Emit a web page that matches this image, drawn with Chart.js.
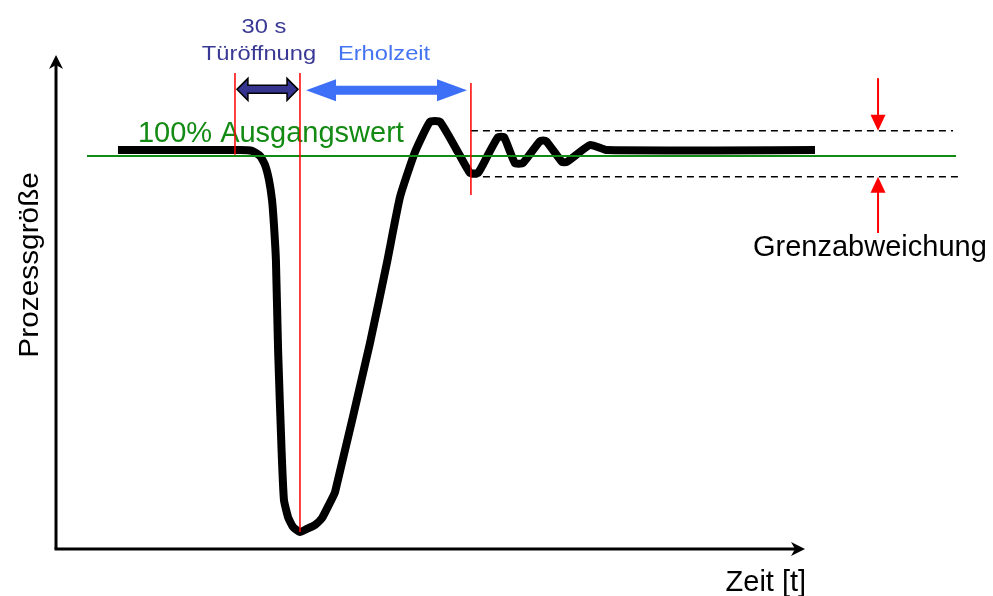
<!DOCTYPE html>
<html><head><meta charset="utf-8">
<script src="https://cdn.jsdelivr.net/npm/chart.js@4/dist/chart.umd.min.js"></script>
<style>html,body{margin:0;padding:0;background:#fff}#wrap{width:993px;height:596px;position:relative}</style>
</head><body><div id="wrap"><canvas id="c"></canvas></div>
<script>
// time axis in seconds, process value in % of the initial value
const curveTime  = [28.6, 84.9, 90.5, 94.2, 96.5, 98.3, 99.7, 100.6, 101.5, 102.5, 104.1, 105.2, 107.1, 109.4, 112.6, 115.8, 119.5, 122.8, 125.9, 128.8, 144.9, 152.8, 158.8, 165.7, 172.6, 177.2, 185.5, 191.1, 194.8, 199.4, 204.0, 206.8, 211.8, 215.5, 223.4, 226.2, 233.5, 235.8, 246.5, 254.3, 350.3];
const curveValue = [101.5, 101.5, 101.3, 100.0, 97.7, 93.9, 88.8, 82.4, 73.5, 50.6, 25.2, 12.5, 8.1, 5.6, 4.3, 5.1, 6.1, 7.9, 11.2, 14.5, 52.4, 73.0, 89.6, 101.0, 108.7, 108.7, 101.0, 95.7, 95.7, 100.3, 104.8, 104.8, 98.2, 98.2, 103.8, 103.8, 98.5, 98.5, 102.8, 101.5, 101.5];
const baselineTime = [14.3, 415.4];
const baselineValue = [100, 100];
const upperLimitTime = [191.5, 414.0];
const upperLimitValue = [106.4, 106.4];
const lowerLimitTime = [191.5, 416.3];
const lowerLimitValue = [94.7, 94.7];
const markerTimes = [82.6, 112.6, 191.5];
const markerTop = [121.1, 121.1, 118.6];
const markerBottom = [100.3, 4.3, 90.1];
const doorOpenSpan = [83.5, 111.7];   // 30 s
const recoverySpan = [115.4, 189.7];
const spanLevel = 116.7;
const limitArrowTime = 379.4;
const upperArrowFrom = 119.8, lowerArrowFrom = 80.4;
const axisTimeEnd = 345.7, axisValueEnd = 125.7;

const pts = (xs, ys) => xs.map((x, i) => ({x, y: ys[i]}));

const datasets = [
  {data: pts(curveTime, curveValue), borderColor:'#000', borderWidth:8, tension:0.15, borderCapStyle:'butt', borderJoinStyle:'round', order:5},
  {data: pts(baselineTime, baselineValue), borderColor:'#138a13', borderWidth:2, order:2},
  {data: pts(upperLimitTime, upperLimitValue), borderColor:'#000', borderWidth:1.5, borderDash:[7,5], order:3},
  {data: pts(lowerLimitTime, lowerLimitValue), borderColor:'#000', borderWidth:1.5, borderDash:[7,5], order:3},
];
markerTimes.forEach((t, i) => datasets.push({data: pts([t, t], [markerTop[i], markerBottom[i]]), borderColor:'#ff0000', borderWidth:1.5, order:1}));

const texts = [
  {text:'30 s', t:96.0, v:131.3, align:'center', color:'#3a3a96', size:21, sx:1.13},
  {text:'Türöffnung', t:93.7, v:124.4, align:'center', color:'#3a3a96', size:21, sx:1.13},
  {text:'Erholzeit', t:151.4, v:124.4, align:'center', color:'#4474f2', size:21, sx:1.13},
  {text:'100% Ausgangswert', t:37.8, v:103.6, align:'left', color:'#138a13', size:29, sx:1},
  {text:'Grenzabweichung', t:321.7, v:74.6, align:'left', color:'#000', size:29, sx:1},
  {text:'Zeit [t]', t:346.2, v:-10.7, align:'right', color:'#000', size:29, sx:1},
];

function blockArrow(ctx, x1, x2, y, sh, hh, hl, fill, stroke) {
  ctx.beginPath();
  ctx.moveTo(x1, y);
  ctx.lineTo(x1 + hl, y - hh); ctx.lineTo(x1 + hl, y - sh);
  ctx.lineTo(x2 - hl, y - sh); ctx.lineTo(x2 - hl, y - hh);
  ctx.lineTo(x2, y);
  ctx.lineTo(x2 - hl, y + hh); ctx.lineTo(x2 - hl, y + sh);
  ctx.lineTo(x1 + hl, y + sh); ctx.lineTo(x1 + hl, y + hh);
  ctx.closePath();
  ctx.fillStyle = fill; ctx.fill();
  if (stroke) { ctx.strokeStyle = stroke; ctx.lineWidth = 1.5; ctx.lineJoin = 'miter'; ctx.stroke(); }
}

const deco = {
  id: 'deco',
  beforeDatasetsDraw(chart) {
    const {ctx, scales:{x, y}} = chart;
    const ox = x.getPixelForValue(0), oy = y.getPixelForValue(0);
    const ex = x.getPixelForValue(axisTimeEnd), ey = y.getPixelForValue(axisValueEnd);
    ctx.save();
    ctx.strokeStyle = '#000'; ctx.lineWidth = 3; ctx.lineCap = 'butt';
    ctx.beginPath(); ctx.moveTo(ox, oy); ctx.lineTo(ox, ey + 8); ctx.stroke();
    ctx.beginPath(); ctx.moveTo(ox - 1.5, oy); ctx.lineTo(ex - 8, oy); ctx.stroke();
    ctx.fillStyle = '#000';
    ctx.beginPath(); ctx.moveTo(ox, ey); ctx.lineTo(ox + 7, ey + 14); ctx.lineTo(ox, ey + 10); ctx.lineTo(ox - 7, ey + 14); ctx.closePath(); ctx.fill();
    ctx.beginPath(); ctx.moveTo(ex, oy); ctx.lineTo(ex - 14, oy - 7); ctx.lineTo(ex - 10, oy); ctx.lineTo(ex - 14, oy + 7); ctx.closePath(); ctx.fill();
    // texts (under the marker lines)
    ctx.textBaseline = 'alphabetic';
    texts.forEach(o => {
      ctx.save();
      ctx.translate(x.getPixelForValue(o.t), y.getPixelForValue(o.v));
      ctx.scale(o.sx, 1);
      ctx.font = o.size + 'px "Liberation Sans", Arial, sans-serif';
      ctx.fillStyle = o.color; ctx.textAlign = o.align;
      ctx.fillText(o.text, 0, 0);
      ctx.restore();
    });
    ctx.save();
    ctx.translate(x.getPixelForValue(-8.3), y.getPixelForValue(72.3));
    ctx.rotate(-Math.PI / 2);
    ctx.scale(1.065, 1);
    ctx.font = '28px "Liberation Sans", Arial, sans-serif';
    ctx.fillStyle = '#000'; ctx.textAlign = 'center';
    ctx.fillText('Prozessgröße', 0, 0);
    ctx.restore();
    ctx.restore();
  },
  afterDatasetsDraw(chart) {
    const {ctx, scales:{x, y}} = chart;
    ctx.save();
    const yl = y.getPixelForValue(spanLevel);
    blockArrow(ctx, x.getPixelForValue(recoverySpan[0]), x.getPixelForValue(recoverySpan[1]), yl, 4.5, 11, 30, '#3d6ff7', null);
    blockArrow(ctx, x.getPixelForValue(doorOpenSpan[0]), x.getPixelForValue(doorOpenSpan[1]), yl - 1, 4, 11, 11, '#35358f', '#000');
    const ax = x.getPixelForValue(limitArrowTime);
    const drawRed = (from, to) => {
      const y1 = y.getPixelForValue(from), y2 = y.getPixelForValue(to);
      const d = Math.sign(y2 - y1);
      ctx.strokeStyle = '#ff0000'; ctx.fillStyle = '#ff0000'; ctx.lineWidth = 2;
      ctx.beginPath(); ctx.moveTo(ax, y1); ctx.lineTo(ax, y2 - d * 14); ctx.stroke();
      ctx.beginPath(); ctx.moveTo(ax, y2); ctx.lineTo(ax - 7.5, y2 - d * 16); ctx.lineTo(ax + 7.5, y2 - d * 16); ctx.closePath(); ctx.fill();
    };
    drawRed(upperArrowFrom, upperLimitValue[0]);
    drawRed(lowerArrowFrom, lowerLimitValue[0]);
    ctx.restore();
  }
};

new Chart(document.getElementById('c'), {
  type: 'line',
  data: {datasets},
  options: {
    responsive: true, maintainAspectRatio: false, animation: false,
    layout: {padding: 0},
    elements: {point: {radius: 0}},
    plugins: {legend: {display: false}, tooltip: {enabled: false}},
    scales: {
      x: {type: 'linear', min: -25.85, max: 432.46, display: false},
      y: {type: 'linear', min: -11.96, max: 139.69, display: false}
    }
  },
  plugins: [deco]
});
</script></body></html>
